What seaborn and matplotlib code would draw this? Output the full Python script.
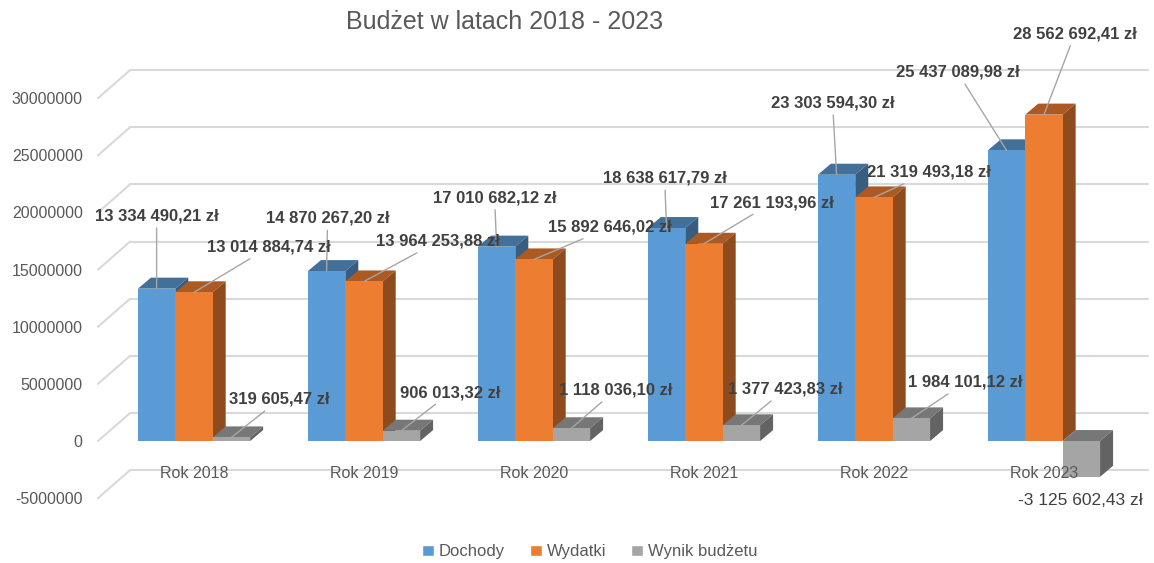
import numpy as np
import pandas as pd
import matplotlib
matplotlib.use("Agg")
import matplotlib.pyplot as plt
import seaborn as sns
from matplotlib.patches import Polygon
from matplotlib.ticker import FuncFormatter

# =========================
# dane
# =========================
lata = ["Rok 2018", "Rok 2019", "Rok 2020", "Rok 2021", "Rok 2022", "Rok 2023"]
dochody = [13334490.21, 14870267.20, 17010682.12, 18638617.79, 23303594.30, 25437089.98]
wydatki = [13014884.74, 13964253.88, 15892646.02, 17261193.96, 21319493.18, 28562692.41]
wynik = [319605.47, 906013.32, 1118036.10, 1377423.83, 1984101.12, -3125602.43]
serie = ["Dochody", "Wydatki", "Wynik budżetu"]
kolory = ["#5B9BD5", "#ED7D31", "#A5A5A5"]

# przesunięcia etykiet (piksele) względem górnej krawędzi słupka
off_doch = [(0, 73), (1, 53), (-2, 49), (-2, 50), (-4, 72), (-49, 78)]
off_wyd = [(75, 45), (74, 40), (76, 32), (68, 41), (55, 25), (31, 81)]
off_wyn = [(48, 38), (49, 38), (44, 38), (44, 36), (54, 36), (-1, -24)]

df = pd.DataFrame({"Rok": lata, "Dochody": dochody, "Wydatki": wydatki, "Wynik budżetu": wynik})
df = df.melt(id_vars="Rok", var_name="Seria", value_name="Kwota")

sns.set_style("white")
plt.rcParams["font.family"] = ["Liberation Sans", "DejaVu Sans"]
szary = "#595959"

fig = plt.figure(figsize=(11.54, 5.63), dpi=100)
ax = fig.add_axes([0.0849, 0.1151, 0.9099, 0.7105])

sns.barplot(data=df, x="Rok", y="Kwota", hue="Seria", hue_order=serie,
            palette=kolory, width=0.66, gap=0, saturation=1, ax=ax)

x0, x1 = -0.565, 5.612
ax.set_xlim(x0, x1)
ax.set_ylim(-5e6, 30e6)

# skala: 170 px na kategorię, 11.43 px na milion
px_x = 1 / 170
px_y = 1e6 / 11.43

# =========================
# siatka "3D" (tylna ściana)
# =========================
yticks = np.arange(-5e6, 30e6 + 1, 5e6)
wdx, wdy = 32 * px_x, 28 * px_y
for t in yticks:
    ax.plot([x0, x0 + wdx], [t, t + wdy], color="#D9D9D9", lw=1.5, clip_on=False, zorder=0)
    ax.plot([x0 + wdx, x1], [t + wdy, t + wdy], color="#D9D9D9", lw=1.5, clip_on=False, zorder=0)


def ciemniej(c, f):
    r, g, b = matplotlib.colors.to_rgb(c)
    return (r * f, g * f, b * f)


# =========================
# boki i góra słupków
# =========================
ddx, ddy = 13 * px_x, 11 * px_y
for i, cont in enumerate(ax.containers):
    kol = kolory[i]
    for p in cont.patches:
        p.set_zorder(2 + i * 0.1)
        p.set_edgecolor("none")
        xa = p.get_x()
        xb = xa + p.get_width()
        h = p.get_y() + p.get_height()
        top = max(h, p.get_y())
        bot = min(h, p.get_y())
        gora = Polygon([(xa, top), (xb, top), (xb + ddx, top + ddy), (xa + ddx, top + ddy)],
                       closed=True, facecolor=ciemniej(kol, 0.72), edgecolor="none",
                       zorder=2 + i * 0.1 - 0.05)
        bok = Polygon([(xb, bot), (xb, top), (xb + ddx, top + ddy), (xb + ddx, bot + ddy)],
                      closed=True, facecolor=ciemniej(kol, 0.6), edgecolor="none",
                      zorder=2 + i * 0.1 - 0.05)
        ax.add_patch(gora)
        ax.add_patch(bok)

# =========================
# etykiety danych
# =========================
def zl(v):
    s = f"{abs(v):,.2f}".replace(",", " ").replace(".", ",")
    return ("-" if v < 0 else "") + s + " zł"


for i, (wart, offs) in enumerate(zip([dochody, wydatki, wynik], [off_doch, off_wyd, off_wyn])):
    for p, v, (ox, oy) in zip(ax.containers[i].patches, wart, offs):
        cx = p.get_x() + p.get_width() / 2
        if v >= 0:
            strz = dict(arrowstyle="-", color="#A6A6A6", lw=1, shrinkA=1, shrinkB=0)
            waga, kol_t, fs = "bold", "#404040", 12
        else:
            strz = None
            waga, kol_t, fs = "normal", "#404040", 12.5
        ax.annotate(zl(v), xy=(cx, v), xytext=(ox, oy), textcoords="offset pixels",
                    ha="center", va="center", fontsize=fs, fontweight=waga,
                    color=kol_t, arrowprops=strz, zorder=5, annotation_clip=False)

# =========================
# osie
# =========================
for s in ax.spines.values():
    s.set_visible(False)
ax.spines["bottom"].set_position(("data", 0))
ax.set_yticks(yticks)
ax.yaxis.set_major_formatter(FuncFormatter(lambda v, pos: f"{v:.0f}"))
ax.tick_params(axis="y", length=0, pad=11, labelsize=11.5, labelcolor=szary)
ax.tick_params(axis="x", length=0, pad=18, labelsize=11.5, labelcolor=szary)
ax.xaxis.set_zorder(4)
ax.set_xlabel("")
ax.set_ylabel("")
ax.grid(False)

fig.text(505 / 1154, 1 - 22 / 563, "Budżet w latach 2018 - 2023", ha="center", va="center",
         fontsize=18, color=szary)

sns.move_legend(ax, "center", bbox_to_anchor=(0.4686, -0.134), ncol=3, frameon=False,
                title=None, fontsize=12, handlelength=0.7, handleheight=0.7,
                handletextpad=0.3, columnspacing=1.5, labelcolor=szary)

fig.savefig("out.png", dpi=100)
